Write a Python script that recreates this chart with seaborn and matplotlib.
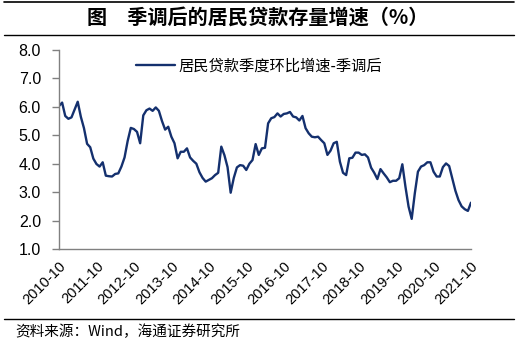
import matplotlib
matplotlib.use("Agg")
import matplotlib.pyplot as plt
import seaborn as sns
import pandas as pd
import numpy as np

# Monthly data, 2010-10 .. 2021-10
start_month = "2010-10"
values = [
    6.03, 6.15, 5.68, 5.58, 5.63, 5.90, 6.18, 5.65, 5.25, 4.70,
    4.58, 4.18, 3.99, 3.90, 4.05, 3.58, 3.56, 3.55, 3.64, 3.66,
    3.90, 4.22, 4.80, 5.26, 5.22, 5.12, 4.72, 5.70, 5.88, 5.94,
    5.86, 5.98, 5.86, 5.50, 5.20, 5.30, 4.95, 4.72, 4.19, 4.42,
    4.42, 4.54, 4.22, 4.10, 4.00, 3.70, 3.50, 3.37, 3.43, 3.49,
    3.60, 3.68, 4.60, 4.30, 3.88, 2.98, 3.50, 3.87, 3.95, 3.93,
    3.78, 4.00, 4.13, 4.69, 4.31, 4.54, 4.56, 5.42, 5.60, 5.64,
    5.77, 5.66, 5.75, 5.77, 5.82, 5.66, 5.63, 5.52, 5.68, 5.25,
    5.07, 4.95, 4.93, 4.95, 4.83, 4.72, 4.31, 4.46, 4.72, 4.77,
    4.07, 3.68, 3.60, 4.19, 4.21, 4.39, 4.39, 4.31, 4.33, 4.22,
    3.86, 3.68, 3.46, 3.81, 3.66, 3.52, 3.35, 3.40, 3.40, 3.49,
    3.98, 3.19, 2.49, 2.06, 2.96, 3.72, 3.90, 3.95, 4.05, 4.05,
    3.72, 3.55, 3.55, 3.88, 4.01, 3.92, 3.49, 3.05, 2.72, 2.50,
    2.40, 2.34, 2.63,
]
series_name = "居民贷款季度环比增速-季调后"
title_text = "图　季调后的居民贷款存量增速（%）"
source_text = "资料来源：Wind，海通证券研究所"
yticks = [1.0, 2.0, 3.0, 4.0, 5.0, 6.0, 7.0, 8.0]

months = pd.period_range(start=start_month, periods=len(values), freq="M")
df = pd.DataFrame({"idx": np.arange(len(values)), "value": values,
                   "month": [m.strftime("%Y-%m") for m in months]})
tick_idx = list(range(0, len(values), 12))
tick_labels = [df["month"][i] for i in tick_idx]

sns.set_theme(style="white")
plt.rcParams["font.family"] = ["Noto Sans CJK SC", "DejaVu Sans"]

fig = plt.figure(figsize=(5.19, 3.48), dpi=100)
ax = fig.add_axes([59/519, 1-249/348, (471-59)/519, (249-50)/348])

sns.lineplot(data=df, x="idx", y="value", ax=ax, color="#14306E",
             linewidth=1.7, label=series_name)

ax.set_xlim(0, len(values) - 1)
ax.set_ylim(1.0, 8.0)
ax.set_yticks(yticks)
ax.set_yticklabels([f"{v:.1f}" for v in yticks], fontsize=11.5,
                   family=["Liberation Sans"], color="#000000")
ax.set_xticks(tick_idx)
ax.set_xticklabels(tick_labels, rotation=45, ha="right", rotation_mode="anchor",
                   fontsize=10.5, family=["Liberation Sans"], color="#000000")
ax.set_xlabel("")
ax.set_ylabel("")

for s in ["top", "right"]:
    ax.spines[s].set_visible(False)
for s in ["left", "bottom"]:
    ax.spines[s].set_color("#808080")
    ax.spines[s].set_linewidth(1.0)
ax.tick_params(axis="y", which="both", direction="out", length=5, width=1,
               color="#808080", pad=8, left=True)
ax.tick_params(axis="x", length=0, pad=7)

leg = ax.legend(loc="upper center", bbox_to_anchor=(0.485, 1.03), frameon=False,
                fontsize=11, handlelength=2.6, handletextpad=0.2)
for t in leg.get_texts():
    t.set_color("#000000")

# Title and rules
fig.text(0.497, 1-17/348, title_text, ha="center", va="center",
         fontsize=14.5, fontweight="bold", color="#000000")
fig.add_artist(plt.Line2D([4/519, 514/519], [1-2/348, 1-2/348],
                          color="black", linewidth=1.2, transform=fig.transFigure))
fig.add_artist(plt.Line2D([4/519, 514/519], [1-35/348, 1-35/348],
                          color="black", linewidth=1.0, transform=fig.transFigure))
fig.add_artist(plt.Line2D([4/519, 514/519], [1-319/348, 1-319/348],
                          color="black", linewidth=1.0, transform=fig.transFigure))
fig.text(15/519, 1-332/348, source_text, ha="left", va="center",
         fontsize=10.5, color="#000000")

fig.savefig("out.png", dpi=100)
